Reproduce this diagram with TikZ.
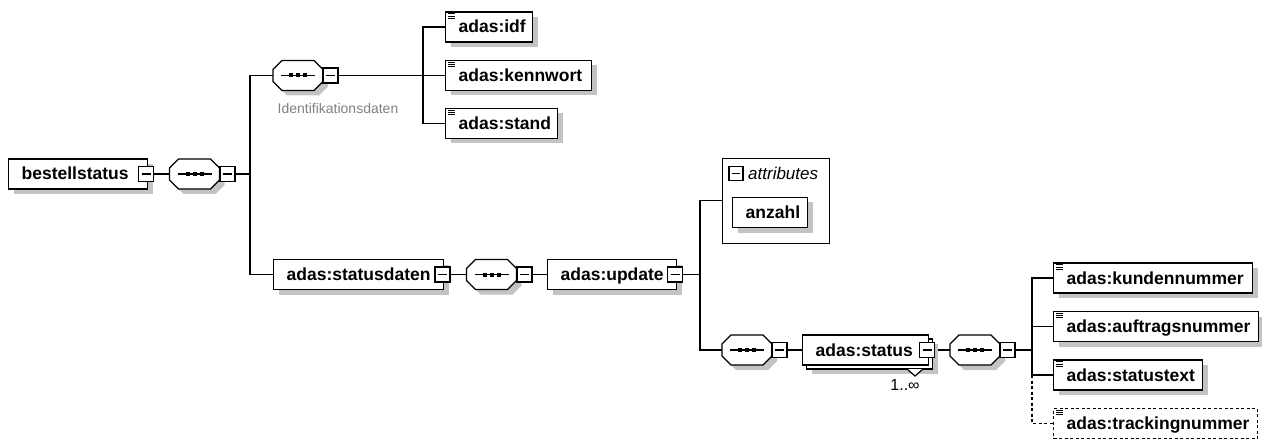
\documentclass[tikz,border=0pt]{standalone}
\usepackage{fontspec}
\setmainfont{Liberation Sans}
\usetikzlibrary{shadows,calc}
\definecolor{shd}{RGB}{195,195,195}
\definecolor{lbl}{RGB}{128,128,128}
\newcommand\elemtext[2]{\makebox[#1][l]{\hspace*{13pt}#2}}
\tikzset{
  conn/.style={line width=1.3pt},
  elembase/.style={draw, fill=white, line width=1.3pt, inner sep=0pt, minimum height=30pt,
    text height=14pt, text depth=2pt, anchor=west, font=\fontsize{17.5}{19}\selectfont\bfseries},
  elem/.style={elembase, drop shadow={shadow xshift=5pt, shadow yshift=-5pt, fill=shd, opacity=1}},
  optelem/.style={elembase, dash pattern=on 3pt off 2.5pt},
  seqnode/.style={minimum width=50pt, minimum height=30pt, inner sep=0pt},
  minusbox/.style={draw, fill=white, line width=1.3pt, minimum size=15pt, inner sep=0pt,
    path picture={\draw[line width=1.3pt] ([xshift=3pt]path picture bounding box.west) -- ([xshift=-3pt]path picture bounding box.east);}},
}
\newcommand\seqshape[1]{%
  \fill[shd] ($(#1.center)+(5,5)$) +(-25,-6) -- +(-16,-15) -- +(16,-15) -- +(25,-6) -- +(25,6) -- +(16,15) -- +(-16,15) -- +(-25,6) -- cycle;
  \draw[line width=1.3pt, fill=white] (#1.center) +(-25,-6) -- +(-16,-15) -- +(16,-15) -- +(25,-6) -- +(25,6) -- +(16,15) -- +(-16,15) -- +(-25,6) -- cycle;
  \draw[line width=1.3pt] ($(#1.center)+(-17,0)$) -- ($(#1.center)+(17,0)$);
  \fill ($(#1.center)+(-9,-2)$) rectangle +(4,4);
  \fill ($(#1.center)+(-2,-2)$) rectangle +(4,4);
  \fill ($(#1.center)+(5,-2)$) rectangle +(4,4);
}
\newcommand\docicon[1]{%
  \draw[line width=0.9pt] ($(#1.north west)+(3,2.5)$) -- +(7,0);
  \draw[line width=0.9pt] ($(#1.north west)+(3,4.7)$) -- +(7,0);
  \draw[line width=0.9pt] ($(#1.north west)+(3,6.9)$) -- +(7,0);
}
\begin{document}
\begin{tikzpicture}[x=1pt,y=-1pt]
\useasboundingbox (0,0) rectangle (1262,441);

% junctions
\coordinate (j1) at (250,174);
\coordinate (j2) at (423,75.5);
\coordinate (j3) at (700,274.5);
\coordinate (j5) at (1032,350);
\coordinate (j6) at (1032,375);

% sequence nodes
\node[seqnode] (s1) at (194.5,174) {};
\node[seqnode] (s2) at (298,75.5) {};
\node[seqnode] (s3) at (491.5,274.5) {};
\node[seqnode] (s4) at (747,350) {};
\node[seqnode] (s5) at (975,350) {};

% connectors
\draw[conn] (j1) |- (s2.west);
\draw[conn] (j1) |- (274,274.5);
\draw[conn] (j2) |- (446,27);
\draw[conn] (j2) |- (446,123.5);
\draw[conn] (330,75.5) -- (446,75.5);
\draw[conn] (150,174) -- (s1.west);
\draw[conn] (230,174) -- (j1);
\draw[conn] (445,274.5) -- (s3.west);
\draw[conn] (525,274.5) -- (548,274.5);
\draw[conn] (680,274.5) -- (j3);
\draw[conn] (j3) |- (723,200.5);
\draw[conn] (j3) |- (s4.west);
\draw[conn] (780,350) -- (803,350);
\draw[conn] (930,350) -- (s5.west);
\draw[conn] (1010,350) -- (j5);
\draw[conn] (j5) |- (1054,278);
\draw[conn] (j5) |- (1054,326.5);
\draw[conn] (j5) |- (1054,375);
\draw[conn, dash pattern=on 3pt off 2.5pt] (j6) |- (1054,423.5);

% octagon shapes
\seqshape{s1}
\seqshape{s2}
\seqshape{s3}
\seqshape{s4}
\seqshape{s5}

% elements
\node[elem] (bs) at (8,174) {\elemtext{139pt}{bestellstatus}};
\node[elem] (idf) at (445,27) {\elemtext{87pt}{adas:idf}};
\node[elem] (kw) at (445,75.5) {\elemtext{146pt}{adas:kennwort}};
\node[elem] (st) at (445,123.5) {\elemtext{112pt}{adas:stand}};
\node[elem] (sd) at (273,274.5) {\elemtext{170pt}{adas:statusdaten}};
\node[elem] (up) at (547,274.5) {\elemtext{129pt}{adas:update}};
\node[elem] (kn) at (1053,278) {\elemtext{199pt}{adas:kundennummer}};
\node[elem] (an) at (1053,326.5) {\elemtext{205pt}{adas:auftragsnummer}};
\node[elem] (sx) at (1053,375) {\elemtext{149pt}{adas:statustext}};
\node[optelem] (tr) at (1053,423.5) {\elemtext{204pt}{adas:trackingnummer}};
\docicon{idf}\docicon{kw}\docicon{st}
\docicon{kn}\docicon{an}\docicon{sx}\docicon{tr}

% status (repeated)
\node[elem, text height=0pt, text depth=0pt, minimum width=126pt] (stb) at (806,354) {};
\node[elembase] (stf) at (802,350) {\elemtext{126pt}{adas:status}};
\draw[line width=1.2pt, fill=white] (907,369) -- (915,376) -- (923,369);
\node[font=\fontsize{16}{18}\selectfont] (mul) at (905,385) {1..∞};

% attributes
\node[draw, line width=1.3pt, minimum width=107pt, minimum height=85pt, anchor=north west, inner sep=0pt] (attr) at (722,158) {};
\node[draw, line width=1.3pt, minimum size=14pt, inner sep=0pt,
  path picture={\draw[line width=1.3pt] ([xshift=3pt]path picture bounding box.west) -- ([xshift=-3pt]path picture bounding box.east);}] (am) at (736,173.5) {};
\node[anchor=west, inner sep=0pt, font=\fontsize{17}{19}\selectfont\itshape] (atx) at (748,173.5) {attributes};
\node[elem] (anz) at (732,212.5) {\elemtext{75pt}{anzahl}};

% label
\node[text=lbl, font=\fontsize{14}{16}\selectfont] (lid) at (338,108) {Identifikationsdaten};

% minus boxes
\node[minusbox] (mb) at (146,174) {};
\node[minusbox] (m1) at (227.5,174) {};
\node[minusbox] (m2) at (330.5,75.5) {};
\node[minusbox] (msd) at (442.5,274.5) {};
\node[minusbox] (m3) at (524.5,274.5) {};
\node[minusbox] (mup) at (675,274.5) {};
\node[minusbox] (m4) at (779.5,350) {};
\node[minusbox] (mst) at (927,350) {};
\node[minusbox] (m5) at (1007.5,350) {};
\end{tikzpicture}
\end{document}
